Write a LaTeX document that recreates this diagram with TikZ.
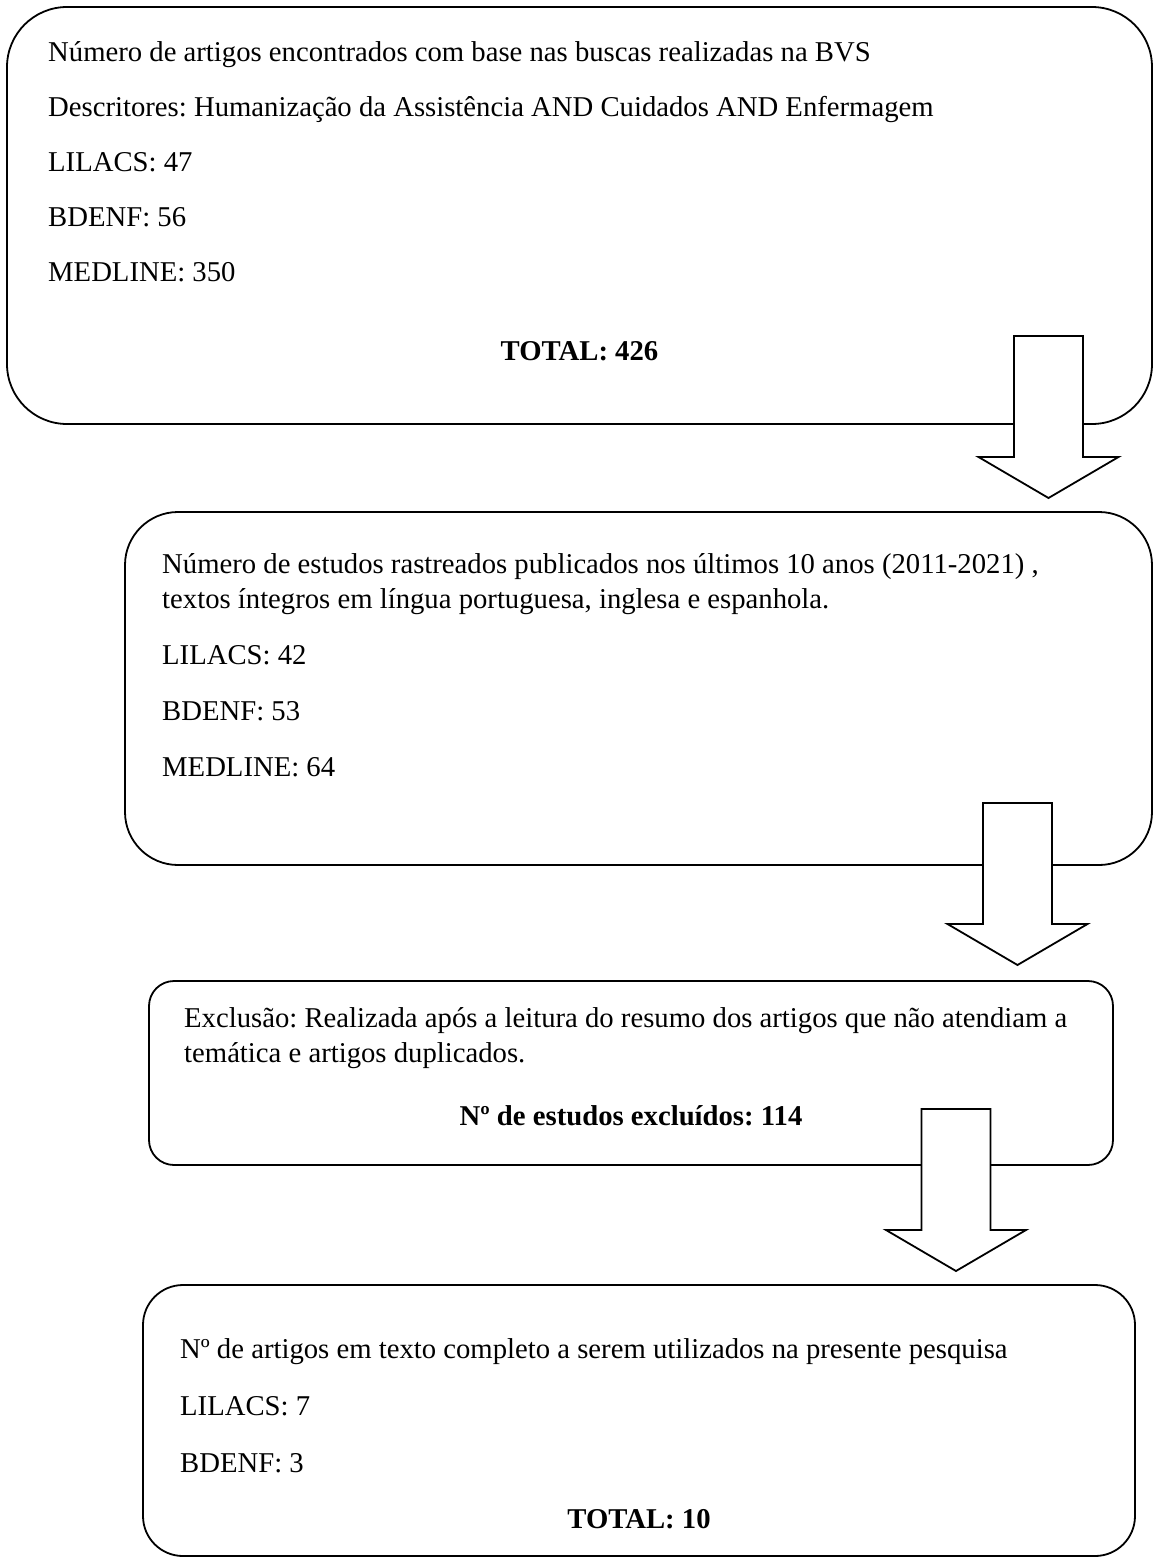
\documentclass[tikz,border=0pt]{standalone}
\usepackage{fontspec}
\setmainfont{Liberation Serif}
\frenchspacing
\begin{document}
\begin{tikzpicture}[x=1pt,y=-1pt,
  box/.style={draw, line width=1.8pt, inner sep=0pt},
  txt/.style={anchor=base west, inner sep=0pt, font=\fontsize{28.7}{33}\selectfont},
  ctxt/.style={anchor=base, inner sep=0pt, font=\fontsize{28.7}{33}\selectfont\bfseries},
  blockarrow/.style={draw, fill=white, line width=1.8pt, line join=miter}]
\useasboundingbox (0,0) rectangle (1155,1559);
% boxes
\node[box, rounded corners=60pt, minimum width=1145pt, minimum height=417pt] (b1) at (579.5,215.5) {};
\node[box, rounded corners=53pt, minimum width=1027pt, minimum height=353pt] (b2) at (638.5,688.5) {};
\node[box, rounded corners=25pt, minimum width=964pt, minimum height=184pt] (b3) at (631,1073) {};
\node[box, rounded corners=40pt, minimum width=992pt, minimum height=271pt] (b4) at (639,1420.5) {};
% box 1 text
\node[txt] (t11) at (48,61) {Número de artigos encontrados com base nas buscas realizadas na BVS};
\node[txt] (t12) at (48,116) {Descritores: Humanização da Assistência AND Cuidados AND Enfermagem};
\node[txt] (t13) at (48,171) {LILACS: 47};
\node[txt] (t14) at (48,226) {BDENF: 56};
\node[txt] (t15) at (48,281) {MEDLINE: 350};
\node[ctxt] (t16) at (579.5,360) {TOTAL: 426};
% box 2 text
\node[txt] (t21) at (162,573) {Número de estudos rastreados publicados nos últimos 10 anos (2011-2021) ,};
\node[txt] (t22) at (162,608) {textos íntegros em língua portuguesa, inglesa e espanhola.};
\node[txt] (t23) at (162,664) {LILACS: 42};
\node[txt] (t24) at (162,720) {BDENF: 53};
\node[txt] (t25) at (162,776) {MEDLINE: 64};
% box 3 text
\node[txt] (t31) at (184,1027) {Exclusão: Realizada após a leitura do resumo dos artigos que não atendiam a};
\node[txt] (t32) at (184,1062) {temática e artigos duplicados.};
\node[ctxt] (t33) at (631,1125) {Nº de estudos excluídos: 114};
% box 4 text
\node[txt] (t41) at (180,1358) {Nº de artigos em texto completo a serem utilizados na presente pesquisa};
\node[txt] (t42) at (180,1415) {LILACS: 7};
\node[txt] (t43) at (180,1472) {BDENF: 3};
\node[ctxt] (t44) at (639,1528) {TOTAL: 10};
% block arrows
\coordinate (a1) at (1048.5,336);
\coordinate (a2) at (1017.5,803);
\coordinate (a3) at (956,1109);
\foreach \a in {a1,a2,a3}{
  \draw[blockarrow] (\a) ++(-34.5,0) -- ++(69,0) -- ++(0,121) -- ++(35.5,0)
    -- ++(-70,41) -- ++(-70,-41) -- ++(35.5,0) -- cycle;
}
\end{tikzpicture}
\end{document}
